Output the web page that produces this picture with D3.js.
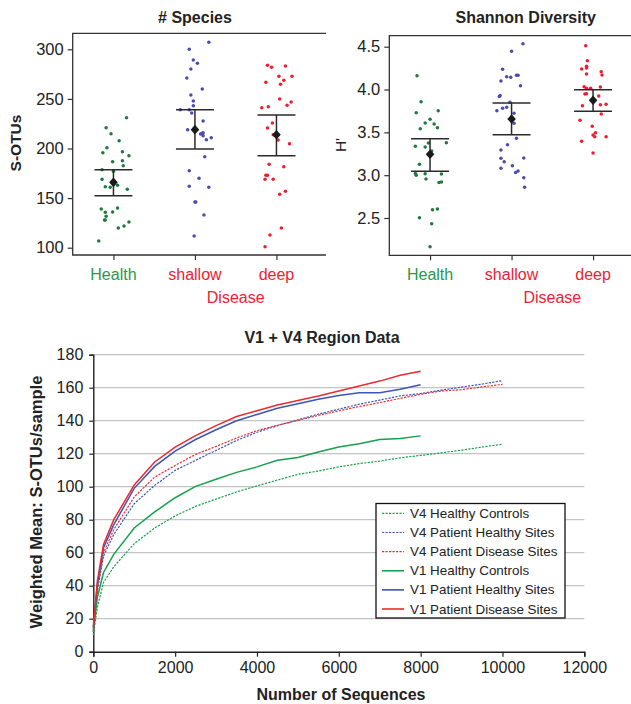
<!DOCTYPE html>
<html><head><meta charset="utf-8">
<script src="https://cdn.jsdelivr.net/npm/d3@7/dist/d3.min.js"></script>
<style>body{margin:0;background:#fff}svg{display:block}</style>
</head><body>
<svg id="c" width="631" height="704"></svg>
<script>
// ---------- DATA ----------
const categories = ["Health", "shallow", "deep"];
const groupLabel = "Disease";

// # Species (S-OTUs) per sample, with horizontal jitter in category units
const speciesHealth = [231,221,214.9,207.9,200.8,195.8,196.8,192.7,186.7,187.7,182.7,178.6,177,169,161.5,160.9,162.9,158.9,139,140,135.7,136,131.7,127.9,127.9,125.9,121.9,119.9,106.8];
const speciesHealthJit = [0.16,-0.09,-0.03,0.07,-0.08,-0.13,0.11,0.19,-0.01,0.11,0.12,-0.14,0.0,-0.14,-0.10,-0.04,0.05,0.17,-0.15,0.05,-0.10,-0.01,-0.09,-0.11,-0.10,0.19,0.13,0.06,-0.18];
const speciesShallow = [307,300,289.2,285.9,280.1,271.1,260,253.9,247.9,243.1,239.1,239.1,235.8,227.7,219,216,215.3,214.6,212.9,210.9,208.9,191.7,177.6,170,161.9,160.9,146,146,133,111.8];
const speciesShallowJit = [0.17,-0.07,-0.02,0.03,-0.05,-0.10,0.09,-0.05,-0.02,-0.02,-0.18,-0.07,-0.04,0.10,-0.09,0.10,0.09,0.07,0.10,0.20,0.14,0.12,-0.07,0.05,-0.07,0.17,0.0,0.01,0.11,-0.01];
const speciesDeep = [283.9,281.9,283.2,272.8,272.8,268.8,266.7,264.7,249.9,246.9,243.5,241.1,242.1,225.7,220.7,213.9,208.6,204.8,184,181.7,173,173,169,169,156.9,153.8,119.9,112.8,101];
const speciesDeepJit = [-0.11,-0.06,0.11,0.03,0.19,0.09,-0.13,0.05,0.04,0.18,0.13,-0.18,-0.10,-0.05,-0.11,-0.04,0.02,0.16,-0.09,0.09,-0.13,-0.11,-0.14,-0.04,0.11,0.04,0.06,-0.08,-0.14];
const speciesMean = [165.9, 219, 213.9];
const speciesLow = [152.4, 199.5, 192.7];
const speciesHigh = [178.6, 239.1, 233.8];
const speciesTicks = [100, 150, 200, 250, 300];

// Shannon diversity (H')
const shannonHealth = [4.161,3.858,3.729,3.753,3.652,3.609,3.597,3.543,3.554,3.379,3.376,3.337,3.329,3.282,3.127,3.02,3.0,3.017,3.014,2.955,2.914,2.92,2.605,2.597,2.504,2.434,2.165];
const shannonHealthJit = [-0.16,-0.11,-0.17,0.10,0.0,-0.06,0.05,-0.12,0.09,0.20,-0.02,-0.18,-0.06,0.02,-0.13,-0.18,-0.17,-0.06,0.14,-0.05,0.11,0.14,0.09,0.03,-0.13,0.02,0.0];
const shannonShallow = [4.535,4.446,4.236,4.15,4.143,4.166,4.166,4.1,4.045,3.93,3.92,3.851,3.781,3.792,3.753,3.722,3.606,3.43,3.356,3.294,3.2,3.197,3.157,3.11,3.05,3.03,3.08,2.97,2.858];
const shannonShallowJit = [0.14,0.0,-0.11,-0.06,-0.01,0.06,0.08,-0.13,0.11,-0.14,-0.15,-0.02,-0.11,-0.06,-0.18,0.03,0.03,0.06,-0.05,-0.13,0.15,-0.13,-0.09,0.01,0.08,0.05,-0.13,0.15,0.16];
const shannonDeep = [4.512,4.337,4.271,4.251,4.24,4.208,4.17,4.181,4.033,4.014,4.014,4.03,3.948,3.95,3.924,3.811,3.823,3.827,3.714,3.64,3.57,3.496,3.47,3.45,3.449,3.395,3.259];
const shannonDeepJit = [-0.09,-0.07,-0.08,-0.08,-0.14,0.10,0.11,-0.08,-0.11,-0.08,-0.03,0.09,-0.10,-0.08,0.07,-0.13,0.09,0.16,0.10,-0.16,-0.01,0.03,0.0,0.02,0.16,-0.14,0.0];
const shannonMean = [3.244, 3.656, 3.874];
const shannonLow = [3.045, 3.473, 3.746];
const shannonHigh = [3.426, 3.843, 3.998];
const shannonTicks = [2.5, 3.0, 3.5, 4.0, 4.5];

// Rarefaction curves
const seqV1 = [0,100,250,500,1000,1500,2000,2500,3000,3500,4000,4500,5000,5500,6000,6500,7000,7500,8000];
const seqV4 = [0,100,250,500,1000,1500,2000,2500,3000,3500,4000,4500,5000,5500,6000,6500,7000,7500,8000,8500,9000,9500,10000];
const v4HealthyControls = [10,27,42,51.5,65.5,75,82.3,88.1,92.5,96.8,100.5,104,107.5,109.5,112,114,115.5,117.5,119,120.5,122.2,124,125.8];
const v4PatientHealthy = [12,37,58,71,89.7,100.8,109.9,116,122,128,133,137,140.5,144,147,150,152.5,155,156.5,158.5,160.3,162.2,164.3];
const v4PatientDisease = [13,39,60,74,93.8,105.8,112.9,119.6,124.4,129.5,134,137.2,140.2,143.2,146,148.6,151,153.5,156,158,158.8,160.5,162];
const v1HealthyControls = [12,33,48,59,75,84.7,93.3,100.2,104.5,108.7,112,116,117.7,121,124,126,128.6,129.2,130.8];
const v1PatientHealthy = [15,41,63,77,99,112.3,121.6,128.6,134.5,140,143.8,147.5,150.3,153,155.3,157,157,159,161.8];
const v1PatientDisease = [14,43,65,80,101,115,124,131,137,142.5,146,149.5,152.3,155,158,161,164,167.5,170];
const seriesNames = ["V4 Healthy Controls","V4 Patient Healthy Sites","V4 Patient Disease Sites","V1 Healthy Controls","V1 Patient Healthy Sites","V1 Patient Disease Sites"];
const xTicksBottom = [0,2000,4000,6000,8000,10000,12000];
const yTicksBottom = [0,20,40,60,80,100,120,140,160,180];

// ---------- STYLE ----------
const FONT = "'Liberation Sans', Arial, Helvetica, sans-serif";
const dotColors = ["#1d7a3c", "#4a4ab2", "#ee1c2e"];
const labelColors = ["#27994a", "#ee2233", "#ee2233"];
const DIS = "#ee2233";
const lineGreen = "#17a04c", lineBlue = "#3d54b8", lineRed = "#ea2a2e";

const svg = d3.select("#c");

function drawPanel(cfg) {
  const g = svg.append("g");
  const x = d3.scaleLinear().domain([0.5, 3.5]).range([cfg.left, cfg.left + 244.5]);
  const y = d3.scaleLinear().domain(cfg.yDomain).range(cfg.yRange);
  g.append("path").attr("d", `M${cfg.right},${cfg.top}H${cfg.left}V${cfg.bottom}H${cfg.right}`)
    .attr("fill", "none").attr("stroke", "#333").attr("stroke-width", 1.3);
  const ya = g.append("g").attr("transform", `translate(${cfg.left},0)`)
    .call(d3.axisLeft(y).tickValues(cfg.ticks).tickSize(5).tickPadding(4).tickFormat(cfg.fmt));
  ya.select(".domain").remove();
  ya.selectAll("line").attr("stroke", "#333").attr("stroke-width", 1.2);
  ya.selectAll("text").attr("font-family", FONT).attr("font-size", 16.5).attr("fill", "#222");
  const xa = g.append("g").attr("transform", `translate(0,${cfg.bottom})`)
    .call(d3.axisBottom(x).tickValues([1, 2, 3]).tickSize(5).tickFormat(""));
  xa.select(".domain").remove();
  xa.selectAll("line").attr("stroke", "#333").attr("stroke-width", 1.2);
  g.selectAll("text.cat").data(categories).join("text").attr("class", "cat")
    .attr("x", (d, i) => x(i + 1)).attr("y", cfg.bottom + 24.5)
    .attr("text-anchor", "middle").attr("font-family", FONT).attr("font-size", 16)
    .attr("fill", (d, i) => labelColors[i]).text(d => d);
  g.append("text").attr("x", (x(2) + x(3)) / 2).attr("y", cfg.bottom + 47.5)
    .attr("text-anchor", "middle").attr("font-family", FONT).attr("font-size", 16)
    .attr("fill", DIS).text(groupLabel);
  g.append("text").attr("x", cfg.titleX).attr("y", 23).attr("text-anchor", "middle")
    .attr("font-family", FONT).attr("font-size", 16).attr("font-weight", "bold")
    .attr("fill", "#222").text(cfg.title);
  g.append("text").attr("transform", `translate(${cfg.ylabX},${cfg.ylabY}) rotate(-90)`)
    .attr("text-anchor", "middle").attr("dominant-baseline", "central")
    .attr("font-family", FONT).attr("font-size", 15.5).attr("font-weight", cfg.ylabBold ? "bold" : "normal")
    .attr("fill", "#222").text(cfg.ylab);
  cfg.groups.forEach((grp, i) => {
    g.append("g").selectAll("circle").data(grp.vals).join("circle")
      .attr("cx", (d, j) => x(i + 1 + grp.jit[j])).attr("cy", d => y(d))
      .attr("r", 1.75).attr("fill", dotColors[i]);
  });
  categories.forEach((c, i) => {
    const cx = x(i + 1);
    const eb = g.append("g").attr("stroke", "#2a2a2a").attr("stroke-width", 1.5);
    eb.append("line").attr("x1", cx).attr("x2", cx).attr("y1", y(cfg.high[i])).attr("y2", y(cfg.low[i]));
    eb.append("line").attr("x1", cx - 19).attr("x2", cx + 19).attr("y1", y(cfg.high[i])).attr("y2", y(cfg.high[i]));
    eb.append("line").attr("x1", cx - 19).attr("x2", cx + 19).attr("y1", y(cfg.low[i])).attr("y2", y(cfg.low[i]));
    const my = y(cfg.mean[i]);
    g.append("path").attr("d", `M${cx},${my - 4.8}L${cx + 4.3},${my}L${cx},${my + 4.8}L${cx - 4.3},${my}Z`)
      .attr("fill", "#1a1a1a");
  });
}

drawPanel({
  left: 72.7, right: 326, top: 33.3, bottom: 255, yDomain: [100, 300], yRange: [247.7, 49.3],
  ticks: speciesTicks, fmt: d3.format("d"), title: "# Species", titleX: 195,
  ylab: "S-OTUs", ylabX: 15, ylabY: 143, ylabBold: true,
  groups: [{vals: speciesHealth, jit: speciesHealthJit}, {vals: speciesShallow, jit: speciesShallowJit}, {vals: speciesDeep, jit: speciesDeepJit}],
  mean: speciesMean, low: speciesLow, high: speciesHigh
});
drawPanel({
  left: 389.3, right: 640, top: 35.7, bottom: 255.3, yDomain: [2.5, 4.5], yRange: [218, 46.7],
  ticks: shannonTicks, fmt: d3.format(".1f"), title: "Shannon Diversity", titleX: 525.7,
  ylab: "H'", ylabX: 340, ylabY: 145, ylabBold: false,
  groups: [{vals: shannonHealth, jit: shannonHealthJit}, {vals: shannonShallow, jit: shannonShallowJit}, {vals: shannonDeep, jit: shannonDeepJit}],
  mean: shannonMean, low: shannonLow, high: shannonHigh
});

// ---------- BOTTOM CHART ----------
const bx = d3.scaleLinear().domain([0, 12000]).range([93.3, 584.3]);
const by = d3.scaleLinear().domain([0, 180]).range([651.7, 354.7]);
const bg = svg.append("g");
bg.append("g").selectAll("line").data(yTicksBottom.filter(d => d > 0)).join("line")
  .attr("x1", bx(0)).attr("x2", bx(12000)).attr("y1", d => by(d)).attr("y2", d => by(d))
  .attr("stroke", "#c4c4c4").attr("stroke-width", 1.2);
const bya = bg.append("g").attr("transform", `translate(${bx(0)},0)`)
  .call(d3.axisLeft(by).tickValues(yTicksBottom).tickSize(4).tickPadding(6));
bya.select(".domain").attr("stroke", "#222").attr("stroke-width", 1.4);
bya.selectAll("line").attr("stroke", "#222").attr("stroke-width", 1.2);
bya.selectAll("text").attr("font-family", FONT).attr("font-size", 16).attr("fill", "#222");
const bxa = bg.append("g").attr("transform", `translate(0,${by(0)})`)
  .call(d3.axisBottom(bx).tickValues(xTicksBottom).tickSize(5).tickPadding(5).tickFormat(d3.format("d")));
bxa.select(".domain").attr("stroke", "#222").attr("stroke-width", 1.4);
bxa.selectAll("line").attr("stroke", "#222").attr("stroke-width", 1.2);
bxa.selectAll("text").attr("font-family", FONT).attr("font-size", 16).attr("fill", "#222");

const seriesDefs = [
  {name: seriesNames[0], xs: seqV4, ys: v4HealthyControls, color: lineGreen, dash: true},
  {name: seriesNames[1], xs: seqV4, ys: v4PatientHealthy, color: lineBlue, dash: true},
  {name: seriesNames[2], xs: seqV4, ys: v4PatientDisease, color: lineRed, dash: true},
  {name: seriesNames[3], xs: seqV1, ys: v1HealthyControls, color: lineGreen, dash: false},
  {name: seriesNames[4], xs: seqV1, ys: v1PatientHealthy, color: lineBlue, dash: false},
  {name: seriesNames[5], xs: seqV1, ys: v1PatientDisease, color: lineRed, dash: false}
];
const lineGen = d3.line().x(d => bx(d[0])).y(d => by(d[1]));
seriesDefs.forEach(s => {
  bg.append("path").datum(s.xs.map((v, i) => [v, s.ys[i]])).attr("d", lineGen)
    .attr("fill", "none").attr("stroke", s.color)
    .attr("stroke-width", s.dash ? 1.2 : 1.5)
    .attr("stroke-dasharray", s.dash ? "2.2,1.3" : null);
});

bg.append("text").attr("x", 322).attr("y", 342.5).attr("text-anchor", "middle")
  .attr("font-family", FONT).attr("font-size", 16).attr("font-weight", "bold").attr("fill", "#222")
  .text("V1 + V4 Region Data");
bg.append("text").attr("x", 341).attr("y", 700).attr("text-anchor", "middle")
  .attr("font-family", FONT).attr("font-size", 16).attr("font-weight", "bold").attr("fill", "#222")
  .text("Number of Sequences");
bg.append("text").attr("transform", "translate(36,502) rotate(-90)")
  .attr("text-anchor", "middle").attr("dominant-baseline", "central")
  .attr("font-family", FONT).attr("font-size", 16.5).attr("font-weight", "bold").attr("fill", "#222")
  .text("Weighted Mean: S-OTUs/sample");

const lg = bg.append("g");
lg.append("rect").attr("x", 376).attr("y", 503.5).attr("width", 189).attr("height", 114.5)
  .attr("fill", "#fff").attr("stroke", "#111").attr("stroke-width", 1.3);
const ly = d3.scaleLinear().domain([0, 5]).range([513.4, 609]);
seriesDefs.forEach((s, i) => {
  lg.append("line").attr("x1", 382).attr("x2", 404).attr("y1", ly(i)).attr("y2", ly(i))
    .attr("stroke", s.color).attr("stroke-width", s.dash ? 1.2 : 1.6)
    .attr("stroke-dasharray", s.dash ? "2.2,1.3" : null);
  lg.append("text").attr("x", 410).attr("y", ly(i)).attr("dominant-baseline", "central")
    .attr("font-family", FONT).attr("font-size", 13.4).attr("fill", "#222").text(s.name);
});
</script>
</body></html>
